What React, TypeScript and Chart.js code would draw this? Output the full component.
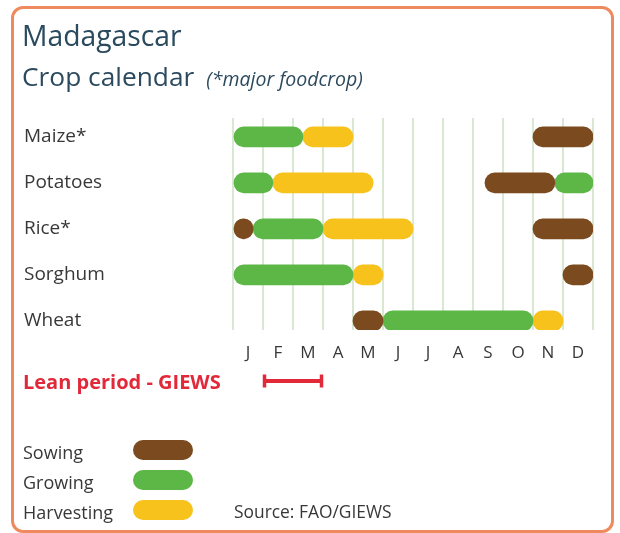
import { useEffect, useRef } from 'react';
import { Chart, registerables } from 'chart.js';
Chart.register(...registerables);

// ---- data (months measured from 1 Jan = 0 to 31 Dec = 12) ----
const crops = ['Maize*', 'Potatoes', 'Rice*', 'Sorghum', 'Wheat'];
const monthLabels = ['J', 'F', 'M', 'A', 'M', 'J', 'J', 'A', 'S', 'O', 'N', 'D'];
const sowing = [[[10, 12]], [[8.4, 10.73]], [[0, 0.67], [10, 12]], [[11, 12]], [[4, 5]]];
const growing = [[[0, 2.33]], [[0, 1.33], [10.73, 12]], [[0.67, 3]], [[0, 4]], [[5, 10]]];
const harvesting = [[[2.33, 4]], [[1.33, 4.67]], [[3, 6]], [[4, 5]], [[10, 11]]];
const leanPeriod = [1, 3];
const stageNames = ['Sowing', 'Growing', 'Harvesting'];

// ---- styles ----
const stageColors = ['#7b4a1f', '#5db747', '#f8c21c'];
const FONT = "'Open Sans', 'Noto Sans', sans-serif";
const TITLE_COLOR = '#2b4a5e';
const TEXT_COLOR = '#383838';
const LEAN_COLOR = '#e2293a';
const Y_MIN = -0.41;
const Y_MAX = 4.2;

function buildDatasets() {
  const stages = [sowing, growing, harvesting];
  const out: any[] = [];
  stages.forEach((segs, s) => {
    const maxK = Math.max(...segs.map((r) => r.length));
    for (let k = 0; k < maxK; k++) {
      const data = segs.flatMap((row, i) => (row[k] ? [{ x: row[k], y: i }] : []));
      out.push({
        label: stageNames[s],
        data,
        backgroundColor: stageColors[s],
        borderWidth: 0,
        borderRadius: 10,
        borderSkipped: false,
        barThickness: 20,
        grouped: false,
        xAxisID: 'x',
        yAxisID: 'y',
      });
    }
  });
  return out;
}

const leanPlugin = {
  id: 'leanPeriod',
  afterDraw(chart: any) {
    const { ctx, chartArea } = chart;
    const xs = chart.scales.x;
    const x0 = xs.getPixelForValue(leanPeriod[0]);
    const x1 = xs.getPixelForValue(leanPeriod[1]);
    const y = chartArea.bottom + 51;
    ctx.save();
    ctx.strokeStyle = LEAN_COLOR;
    ctx.lineWidth = 4;
    ctx.beginPath();
    ctx.moveTo(x0, y);
    ctx.lineTo(x1, y);
    ctx.stroke();
    ctx.lineWidth = 3.5;
    ctx.beginPath();
    ctx.moveTo(x0 + 1.5, y - 6.5);
    ctx.lineTo(x0 + 1.5, y + 6.5);
    ctx.moveTo(x1 - 1.5, y - 6.5);
    ctx.lineTo(x1 - 1.5, y + 6.5);
    ctx.stroke();
    ctx.restore();
  },
};

function Label(props: { x: number; y: number; size: number; color?: string; bold?: boolean; italic?: boolean; children: any }) {
  return (
    <div
      style={{
        position: 'absolute',
        left: props.x,
        top: props.y,
        transform: 'translateY(-50%)',
        fontFamily: FONT,
        fontSize: props.size,
        lineHeight: 1,
        color: props.color || TEXT_COLOR,
        fontWeight: props.bold ? 700 : 400,
        fontStyle: props.italic ? 'italic' : 'normal',
        whiteSpace: 'nowrap',
      }}
    >
      {props.children}
    </div>
  );
}

function Swatch(props: { y: number; color: string }) {
  return (
    <div
      style={{
        position: 'absolute',
        left: 133,
        top: props.y - 10,
        width: 60,
        height: 20,
        borderRadius: 10,
        background: props.color,
      }}
    />
  );
}

export default function App() {
  const ref = useRef<HTMLCanvasElement | null>(null);

  useEffect(() => {
    if (!ref.current) return;
    const chart = new Chart(ref.current, {
      type: 'bar',
      data: { datasets: buildDatasets() },
      options: {
        indexAxis: 'y',
        responsive: false,
        animation: false,
        layout: { padding: { top: 118, left: 24, right: 27, bottom: 0 } },
        plugins: { legend: { display: false }, tooltip: { enabled: false }, title: { display: false } },
        scales: {
          y: {
            type: 'linear',
            reverse: true,
            offset: false,
            bounds: 'data',
            min: Y_MIN,
            max: Y_MAX,
            grid: { display: false, drawTicks: false },
            border: { display: false },
            afterBuildTicks: (s: any) => {
              s.ticks = crops.map((_, i) => ({ value: i }));
              s.min = Y_MIN;
              s.max = Y_MAX;
            },
            afterFit: (s: any) => {
              s.width = 209;
            },
            ticks: {
              crossAlign: 'far',
              padding: 0,
              color: TEXT_COLOR,
              font: { family: FONT, size: 19 },
              callback: (v: any) => crops[v] ?? '',
            },
          },
          x: {
            type: 'linear',
            position: 'bottom',
            min: 0,
            max: 12,
            ticks: { display: false, stepSize: 1 },
            grid: { color: '#d8e8d3', lineWidth: 2, drawTicks: false },
            border: { display: false },
          },
          x2: {
            type: 'category',
            position: 'bottom',
            labels: monthLabels,
            offset: true,
            grid: { display: false, drawTicks: false },
            border: { display: false },
            afterFit: (s: any) => {
              s.height = 203;
            },
            ticks: {
              padding: 13,
              color: TEXT_COLOR,
              maxRotation: 0,
              autoSkip: false,
              font: { family: FONT, size: 17 },
            },
          },
        },
      } as any,
      plugins: [leanPlugin],
    });
    return () => chart.destroy();
  }, []);

  return (
    <div style={{ position: 'absolute', left: 0, top: 0, width: 620, height: 533, background: '#fff', overflow: 'hidden' }}>
      <div
        style={{
          position: 'absolute',
          left: 11,
          top: 6,
          width: 597,
          height: 521,
          border: '3px solid #ef8a5e',
          borderRadius: 12,
          background: '#fff',
        }}
      />
      <canvas ref={ref} width={620} height={533} style={{ position: 'absolute', left: 0, top: 0 }} />
      <Label x={22} y={35} size={28.3} color={TITLE_COLOR}>Madagascar</Label>
      <Label x={22} y={76} size={26.3} color={TITLE_COLOR}>
        Crop calendar
        <span style={{ fontStyle: 'italic', fontSize: 19.5, marginLeft: 12 }}>(*major foodcrop)</span>
      </Label>
      <Label x={23} y={381.5} size={20} color={LEAN_COLOR} bold>Lean period - GIEWS</Label>
      <Label x={23} y={452} size={18}>{stageNames[0]}</Label>
      <Label x={23} y={481.5} size={18}>{stageNames[1]}</Label>
      <Label x={23} y={511.5} size={18}>{stageNames[2]}</Label>
      <Swatch y={450} color={stageColors[0]} />
      <Swatch y={480} color={stageColors[1]} />
      <Swatch y={510} color={stageColors[2]} />
      <Label x={234} y={511.5} size={17.4}>Source: FAO/GIEWS</Label>
    </div>
  );
}
